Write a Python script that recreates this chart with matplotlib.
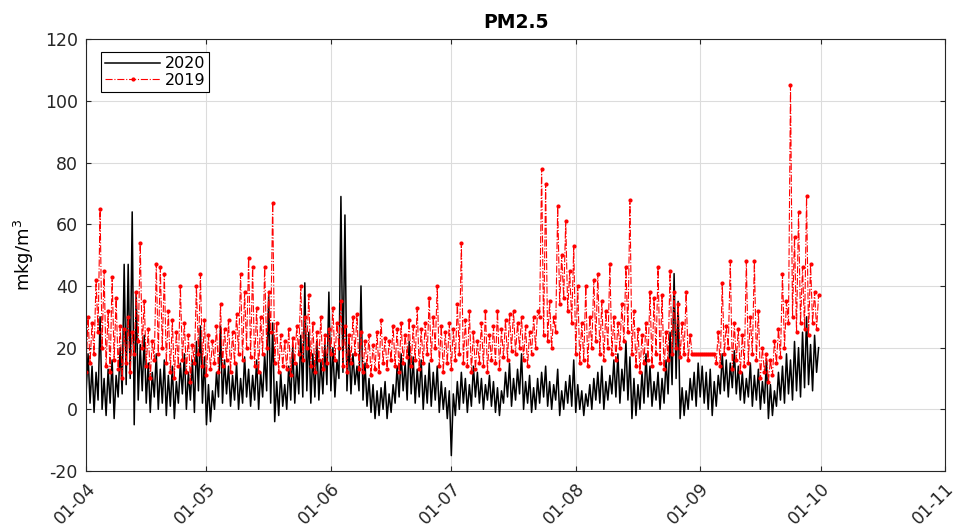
import numpy as np
import pandas as pd
import matplotlib
matplotlib.use("Agg")
import matplotlib.pyplot as plt
import matplotlib.dates as mdates

plt.rcParams["axes.unicode_minus"] = False

# PM2.5 readings, two per day (00h, 12h), 1 Apr - 30 Sep
pm_2020_apr = [5, 18, 2, 14, -1, 12, 3, 30, 0, 10, -2, 13, 2, 16, -3, 11, 4, 20, 5, 47,
               8, 47, 10, 64, -5, 38, 3, 21, 6, 24, 2, 15, -1, 12, 4, 18, 0, 13, 2, 16,
               -2, 11, 1, 14, -3, 9, 2, 15, 5, 18, 0, 12, 3, 16, -1, 22, 6, 27, 2, 17]
pm_2020_may = [-5, 8, -4, 6, 0, 12, 4, 27, 2, 16, 5, 14, 1, 11, 3, 15, 0, 10, 2, 17,
               4, 13, 1, 11, 3, 16, 0, 12, 4, 18, 6, 37, 2, 28, -4, 9, -2, 12, 1, 8,
               0, 14, 3, 20, 2, 15, 5, 24, 4, 41, 6, 25, 2, 18, 4, 22, 3, 16, 5, 21, 8, 38]
pm_2020_jun = [6, 20, 4, 16, 10, 69, 12, 63, 6, 22, 5, 18, 8, 14, 6, 40, 3, 15, 1, 10,
               -1, 8, -3, 6, -2, 7, 0, 9, -3, 5, -1, 8, 2, 14, 4, 18, 6, 15, 3, 22,
               5, 17, 2, 13, 4, 16, 0, 11, 2, 15, 1, 12, 3, 14, -1, 9, 0, 7, -3, 6]
pm_2020_jul = [-15, 5, -2, 9, 0, 12, 2, 10, -1, 8, 1, 14, 4, 12, 2, 10, 0, 8, 3, 11,
               1, 9, -1, 7, -2, 6, 2, 12, 4, 15, 1, 10, 3, 13, 5, 18, 0, 9, 2, 11,
               -1, 7, 0, 10, 2, 12, 4, 14, 1, 9, 0, 8, 3, 13, -2, 6, 0, 9, 2, 11, 1, 16]
pm_2020_aug = [-1, 8, 0, 6, -2, 5, 1, 8, 0, 10, 3, 12, 2, 14, 0, 9, 3, 11, 5, 16,
               4, 18, 2, 13, 6, 22, 3, 17, -3, 10, -2, 8, 0, 12, 2, 18, 4, 14, 1, 9,
               3, 12, 0, 10, 2, 16, 5, 25, 8, 44, 10, 35, -3, 7, -2, 6, 0, 10, 3, 12, 1, 15]
pm_2020_sep = [4, 14, 2, 12, 0, 13, -2, 9, 1, 11, 5, 18, 6, 16, 4, 15, 7, 19, 5, 14,
               3, 12, 2, 10, 4, 15, 1, 11, 3, 13, 0, 9, 2, 16, -3, 8, -2, 6, 1, 12,
               3, 14, 2, 18, 5, 16, 3, 22, 6, 20, 4, 25, 7, 30, 8, 21, 6, 24, 12, 20]

pm_2019_apr = [12, 30, 15, 28, 18, 42, 25, 65, 20, 45, 14, 32, 12, 43, 16, 36, 13, 27, 10, 26,
               15, 30, 12, 25, 18, 38, 22, 54, 20, 35, 14, 26, 10, 22, 16, 47, 18, 46, 20, 44,
               15, 32, 12, 29, 10, 25, 14, 40, 16, 28, 12, 24, 9, 21, 15, 40, 18, 44, 14, 29]
pm_2019_may = [11, 24, 13, 22, 15, 27, 12, 34, 14, 26, 16, 29, 12, 25, 15, 31, 18, 44, 16, 38,
               20, 49, 17, 46, 14, 33, 12, 30, 18, 46, 20, 38, 25, 67, 15, 28, 12, 24, 14, 22,
               13, 26, 11, 23, 15, 27, 18, 40, 16, 30, 20, 37, 14, 28, 12, 25, 16, 30, 13, 24, 15, 26]
pm_2019_jun = [18, 33, 16, 28, 20, 35, 14, 27, 12, 24, 15, 30, 18, 31, 13, 25, 12, 22, 14, 24,
               11, 21, 13, 25, 12, 29, 15, 23, 13, 22, 16, 27, 14, 26, 12, 28, 15, 24, 17, 29,
               14, 27, 16, 33, 13, 26, 15, 28, 18, 36, 16, 30, 20, 40, 14, 27, 12, 25, 15, 28]
pm_2019_jul = [13, 26, 16, 34, 18, 54, 15, 29, 14, 32, 12, 25, 13, 22, 15, 28, 14, 32, 12, 24,
               16, 27, 15, 32, 13, 26, 17, 29, 16, 31, 19, 32, 18, 28, 20, 30, 16, 27, 14, 25,
               18, 30, 20, 32, 30, 78, 24, 73, 22, 35, 20, 30, 25, 66, 34, 50, 36, 61, 32, 45, 28, 53]
pm_2019_aug = [18, 40, 15, 28, 16, 40, 14, 30, 20, 42, 22, 44, 18, 35, 16, 32, 20, 47, 18, 30,
               16, 28, 20, 34, 22, 46, 25, 68, 18, 32, 14, 26, 12, 24, 15, 28, 16, 38, 14, 36,
               18, 46, 15, 37, 13, 25, 16, 45, 18, 38, 20, 34, 17, 28, 18, 38, 16, 24, 18, 18, 18, 18]
pm_2019_sep = [18, 18, 18, 18, 18, 18, 18, 18, 15, 25, 14, 41, 18, 27, 20, 48, 13, 28, 16, 26,
               12, 24, 14, 48, 15, 30, 18, 48, 16, 32, 10, 20, 12, 18, 9, 16, 11, 22, 15, 26,
               17, 44, 20, 35, 28, 105, 30, 56, 25, 64, 28, 46, 26, 69, 24, 47, 28, 38, 26, 37]

pm_2020 = pm_2020_apr + pm_2020_may + pm_2020_jun + pm_2020_jul + pm_2020_aug + pm_2020_sep
pm_2019 = pm_2019_apr + pm_2019_may + pm_2019_jun + pm_2019_jul + pm_2019_aug + pm_2019_sep

# both years drawn on one day-month axis
t2020 = pd.date_range("2020-04-01", periods=len(pm_2020), freq="12h")
t2019 = pd.date_range("2020-04-01", periods=len(pm_2019), freq="12h")

fig = plt.figure(figsize=(9.57, 5.29), dpi=100)
ax = fig.add_axes([0.0899, 0.1096, 0.8976, 0.8164])

ax.plot(t2020, pm_2020, color="black", lw=1.1, label="2020")
ax.plot(t2019, pm_2019, color="red", lw=0.8, ls="-.", marker=".", markersize=4, label="2019")

ax.set_ylim(-20, 120)
ax.set_yticks(np.arange(-20, 121, 20))
ax.set_xlim(pd.Timestamp("2020-04-01"), pd.Timestamp("2020-11-01"))
ax.xaxis.set_major_locator(mdates.MonthLocator())
ax.xaxis.set_major_formatter(mdates.DateFormatter("%d-%m"))
for lab in ax.get_xticklabels():
    lab.set_rotation(45)
    lab.set_ha("right")
    lab.set_rotation_mode("anchor")

ax.tick_params(direction="in", top=True, right=True, labelsize=12.5, colors="#262626", pad=6)
ax.grid(True, color="#dcdcdc", lw=0.8)
for s in ax.spines.values():
    s.set_color("#262626")

ax.set_title("PM2.5", fontsize=13.5, fontweight="bold", pad=8)
ax.set_ylabel("mkg/m$^3$", fontsize=13, labelpad=6)

leg = ax.legend(loc="upper left", bbox_to_anchor=(0.018, 0.97), borderaxespad=0,
                fancybox=False, edgecolor="black", framealpha=1,
                fontsize=11.5, handlelength=3.4, borderpad=0.25, labelspacing=0.1,
                handletextpad=0.3)
leg.get_frame().set_linewidth(0.8)

fig.savefig("out.png", dpi=100)
